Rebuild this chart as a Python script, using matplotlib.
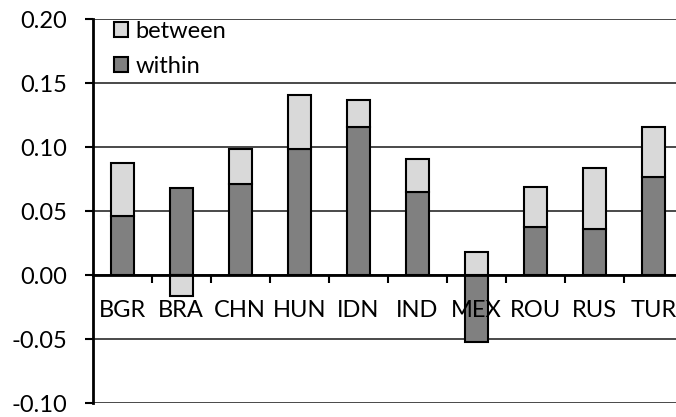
import numpy as np
import matplotlib
matplotlib.use('Agg')
import matplotlib.pyplot as plt
from matplotlib.patches import Patch

plt.rcParams['font.family'] = ['Lato', 'DejaVu Sans']

countries = ['BGR', 'BRA', 'CHN', 'HUN', 'IDN', 'IND', 'MEX', 'ROU', 'RUS', 'TUR']
within = [0.046, 0.068, 0.071, 0.099, 0.116, 0.065, -0.052, 0.038, 0.036, 0.077]
between = [0.042, -0.016, 0.028, 0.042, 0.021, 0.026, 0.018, 0.031, 0.048, 0.039]
y_ticks = [-0.10, -0.05, 0.00, 0.05, 0.10, 0.15, 0.20]

col_within = '#808080'
col_between = '#d9d9d9'

within = np.array(within)
between = np.array(between)
# Excel-style stacking: positives and negatives stack separately
bottom_between = np.where(np.sign(within) == np.sign(between), within, 0.0)

fig = plt.figure(figsize=(6.76, 4.17), dpi=100)
ax = fig.add_axes([92.5 / 676, 14 / 417, 591 / 676, 383.5 / 417])

x = np.arange(len(countries))
w = 0.39
ax.bar(x, within, w, color=col_within, edgecolor='black', linewidth=1.5, zorder=2)
ax.bar(x, between, w, bottom=bottom_between, color=col_between,
       edgecolor='black', linewidth=1.5, zorder=2)

ax.set_xlim(-0.5, 9.5)
ax.set_ylim(-0.10, 0.20)
ax.set_yticks(y_ticks)
ax.set_yticklabels(['%.2f' % v for v in y_ticks])
# gridlines behind the bars, tick labels above them
for v in y_ticks:
    ax.axhline(v, color='#2a2a2a', linewidth=1.2, zorder=0.5)
ax.set_axisbelow(False)

for s in ['top', 'right']:
    ax.spines[s].set_visible(False)
ax.spines['bottom'].set_position(('data', 0))
ax.spines['bottom'].set_linewidth(2)
ax.spines['left'].set_linewidth(2)

ax.set_xticks(x)
ax.set_xticklabels(countries)
ax.set_xticks(np.arange(0.5, 9.5, 1), minor=True)
ax.tick_params(axis='x', which='major', length=0, pad=18, labelsize=17)
ax.tick_params(axis='x', which='minor', length=5.8, width=1.5, direction='out')
ax.tick_params(axis='y', length=5.8, width=1.5, pad=12.5, labelsize=17)

handles = [Patch(facecolor=col_between, edgecolor='black', linewidth=1.5, label='between'),
           Patch(facecolor=col_within, edgecolor='black', linewidth=1.5, label='within')]
ax.legend(handles=handles, loc='upper left', bbox_to_anchor=(114 / 676, 1 - 21 / 417),
          bbox_transform=fig.transFigure, frameon=False, fontsize=17,
          handlelength=0.6, handleheight=0.6, handletextpad=0.3,
          labelspacing=0.58, borderpad=0, borderaxespad=0)

fig.savefig('out.png', dpi=100)
